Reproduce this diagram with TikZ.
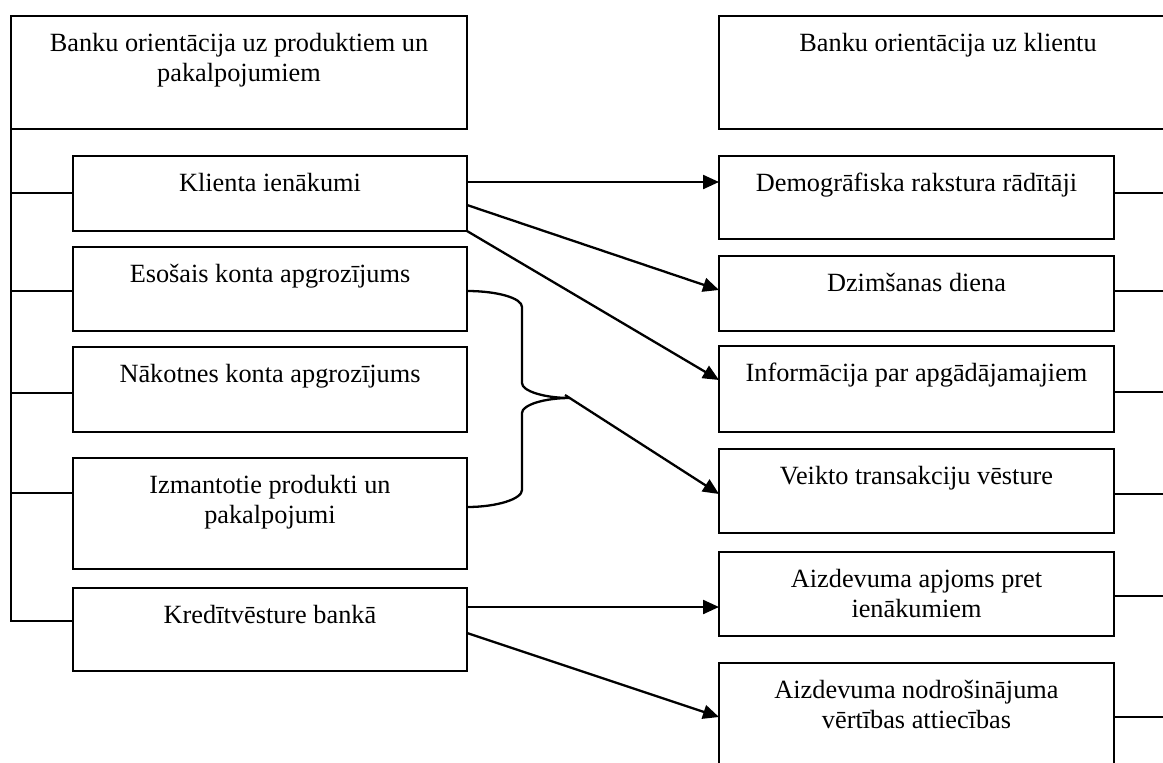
\documentclass[tikz,border=0pt]{standalone}
\usepackage{fontspec}
\setmainfont{Liberation Serif}
\usetikzlibrary{arrows.meta}

\tikzset{
  stepbox/.style={draw, line width=2.5pt, inner sep=0pt, outer sep=0pt},
  link/.style={line width=2.3pt},
  arr/.style={link, -{Triangle[length=16pt,width=14pt]}},
}

% box with top-aligned, centred text: name, x1, y1, x2, y2, text
\newcommand\drawbox[6]{%
  \pgfmathsetmacro\bw{#4-#2}\pgfmathsetmacro\bh{#5-#3}%
  \node[stepbox, anchor=north west] (#1) at (#2,#3)
    {\begin{minipage}[t][\bh pt][t]{\bw pt}\centering\rule{0pt}{35pt}#6\end{minipage}};}

\begin{document}
\begin{tikzpicture}[x=1pt, y=-1pt, font=\fontsize{26.3}{30.5}\selectfont]
\useasboundingbox (0,0) rectangle (1163,763);

% left column: product orientation
\drawbox{prod}{11}{16}{467}{129}{Banku orientācija uz produktiem un\\pakalpojumiem}
\drawbox{klient}{73}{156}{467}{231}{Klienta ienākumi}
\drawbox{esos}{73}{247}{467}{331}{Esošais konta apgrozījums}
\drawbox{nakot}{73}{347}{467}{432}{Nākotnes konta apgrozījums}
\drawbox{izm}{73}{458}{467}{569}{Izmantotie produkti un\\pakalpojumi}
\drawbox{kred}{73}{588}{467}{671}{Kredītvēsture bankā}

% right column: client orientation
\drawbox{klients}{719}{16}{1177}{129}{Banku orientācija uz klientu}
\drawbox{demo}{719}{156}{1114}{239}{Demogrāfiska rakstura rādītāji}
\drawbox{dzim}{719}{256}{1114}{331}{Dzimšanas diena}
\drawbox{info}{719}{346}{1114}{432}{Informācija par apgādājamajiem}
\drawbox{veik}{719}{449}{1114}{533}{Veikto transakciju vēsture}
\drawbox{apj}{719}{552}{1114}{636}{Aizdevuma apjoms pret\\ienākumiem}
\drawbox{nodr}{719}{663}{1114}{790}{Aizdevuma nodrošinājuma\\vērtības attiecības}

% left trunk and branches
\coordinate (kl-in) at ([yshift=-37pt]klient.north west);
\coordinate (es-in) at ([yshift=-44pt]esos.north west);
\coordinate (na-in) at ([yshift=-46pt]nakot.north west);
\coordinate (iz-in) at ([yshift=-35pt]izm.north west);
\coordinate (kr-in) at ([yshift=-33pt]kred.north west);
\draw[link] (prod.south west) |- (kr-in);
\foreach \c in {kl-in, es-in, na-in, iz-in}
  \draw[link] (prod.south west |- \c) -- (\c);

% right stubs leaving the frame
\coordinate (edge) at (1170,0);
\foreach \b/\d in {demo/37, dzim/35, info/46, veik/45, apj/44, nodr/54}{
  \coordinate (\b-out) at ([yshift=-\d pt]\b.north east);
  \draw[link] (\b-out) -- (\b-out -| edge);
}

% arrows from client income
\draw[arr] ([yshift=-26pt]klient.north east) -- ([yshift=-26pt]demo.north west);
\draw[arr] ([yshift=-49pt]klient.north east) -- ([yshift=-34pt]dzim.north west);
\draw[arr] (klient.south east) -- ([yshift=-34pt]info.north west);

% brace joining account turnover and used products
\coordinate (tip) at (570,398);
\draw[link] ([yshift=-2pt]esos.east) .. controls (497,291) and (522,298) .. (522,307)
  -- (522,383) .. controls (522,391) and (544,398) .. (tip)
  .. controls (544,398) and (522,405) .. (522,413)
  -- (522,490) .. controls (522,499) and (497,507) .. ([yshift=6.5pt]izm.east);
\draw[arr] ([xshift=-5pt,yshift=3pt]tip) -- ([yshift=-45pt]veik.north west);

% arrows from credit history
\draw[arr] ([yshift=-19pt]kred.north east) -- ([yshift=-55pt]apj.north west);
\draw[arr] ([yshift=-45pt]kred.north east) -- ([yshift=-54pt]nodr.north west);
\end{tikzpicture}
\end{document}
